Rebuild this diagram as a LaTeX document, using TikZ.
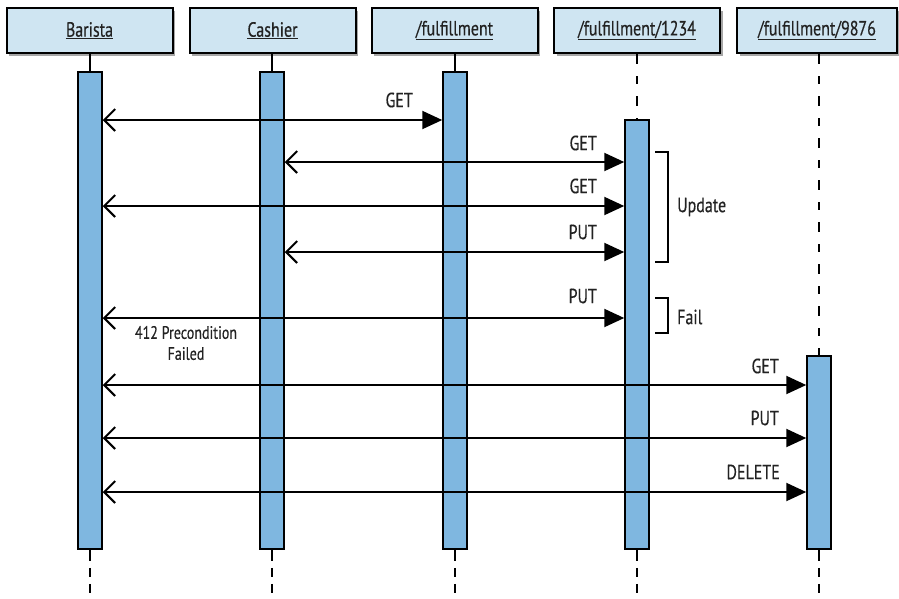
\documentclass[tikz,border=0pt]{standalone}
\usepackage{fontspec}
\setmainfont[FakeStretch=0.78,FakeBold=0.4]{PT Sans}
\usetikzlibrary{arrows.meta,shadows,calc}
\definecolor{hdr}{HTML}{CFE5F2}
\definecolor{barc}{HTML}{7FB7E0}
\definecolor{txt}{HTML}{222222}
\begin{document}
\begin{tikzpicture}[x=1pt,y=-1pt,
 hdrbox/.style={draw=black,line width=2pt,fill=hdr,minimum width=166pt,minimum height=45pt,
   drop shadow={shadow xshift=2.5pt,shadow yshift=-3pt,fill=black,opacity=0.35},
   font=\fontsize{20.5}{22}\selectfont,text=txt,inner sep=0pt},
 actbar/.style={draw=black,line width=1.5pt,fill=barc,minimum width=24pt,inner sep=0pt},
 msg/.style={line width=2pt,{Straight Barb[length=11pt,width=22pt,line width=2pt]}-{Triangle[length=20pt,width=18pt]}},
 lbl/.style={font=\fontsize{20.5}{22}\selectfont,text=txt,inner sep=0pt},
 life/.style={line width=2pt},
 lifetop/.style={line width=2pt,dash pattern=on 10pt off 12pt on 8pt off 12pt},
 lifebot/.style={line width=2pt,dash pattern=on 11pt off 7pt on 9pt off 7pt},
 brk/.style={line width=2pt}]
\useasboundingbox (0,0) rectangle (899,598);

% activation bars
\node[actbar,minimum height=477pt] (ab) at (90,310.5) {};
\node[actbar,minimum height=477pt] (cb) at (272,310.5) {};
\node[actbar,minimum height=477pt] (fb) at (455,310.5) {};
\node[actbar,minimum height=429pt] (gb) at (637,334.5) {};
\node[actbar,minimum height=193pt] (hb) at (819,452.5) {};

% header boxes
\node[hdrbox] (ah) at (89.5,30.5) {\underline{Barista}};
\node[hdrbox] (ch) at (272.5,30.5) {\underline{Cashier}};
\node[hdrbox] (fh) at (454.5,30.5) {\underline{/fulfillment}};
\node[hdrbox] (gh) at (637,30.5) {\underline{/fulfillment/1234}};
\node[hdrbox,minimum width=160pt] (hh) at (817,30.5) {\underline{/fulfillment/9876}};

% lifelines
\draw[life] (ah.south -| ab.north) -- (ab.north);
\draw[life] (ch.south -| cb.north) -- (cb.north);
\draw[life] (fh.south -| fb.north) -- (fb.north);
\draw[lifetop] (gh.south -| gb.north) -- (gb.north);
\draw[lifetop] (hh.south -| hb.north) -- (hb.north);
\foreach \b in {ab,cb,fb,gb,hb}{
  \draw[lifebot] (\b.south) -- ++(0,43);
}

% messages
\draw[msg] (ab.east |- 0,120) -- (fb.west |- 0,120);
\draw[msg] (cb.east |- 0,162) -- (gb.west |- 0,162);
\draw[msg] (ab.east |- 0,206) -- (gb.west |- 0,206);
\draw[msg] (cb.east |- 0,252) -- (gb.west |- 0,252);
\draw[msg] (ab.east |- 0,318) -- (gb.west |- 0,318);
\draw[msg] (ab.east |- 0,385) -- (hb.west |- 0,385);
\draw[msg] (ab.east |- 0,438) -- (hb.west |- 0,438);
\draw[msg] (ab.east |- 0,492) -- (hb.west |- 0,492);

% labels
\node[lbl,anchor=east] (l1) at (413,100) {GET};
\node[lbl,anchor=east] (l2) at (597,143) {GET};
\node[lbl,anchor=east] (l3) at (597,186) {GET};
\node[lbl,anchor=east] (l4) at (597,232) {PUT};
\node[lbl,anchor=east] (l5) at (597,296) {PUT};
\node[lbl,anchor=east] (l6) at (779,366) {GET};
\node[lbl,anchor=east] (l7) at (779,418) {PUT};
\node[lbl,anchor=east] (l8) at (780,472) {DELETE};
\node[lbl,align=center,font=\fontsize{18}{21}\selectfont] (lp) at (186,343) {412 Precondition\\Failed};

% brackets
\draw[brk] (655,152) -- (668,152) -- (668,262) -- (655,262);
\draw[brk] (655,298) -- (668,298) -- (668,333) -- (655,333);
\node[lbl,anchor=west] (lu) at (677,207) {Update};
\node[lbl,anchor=west] (lf) at (677,317) {Fail};
\end{tikzpicture}
\end{document}
